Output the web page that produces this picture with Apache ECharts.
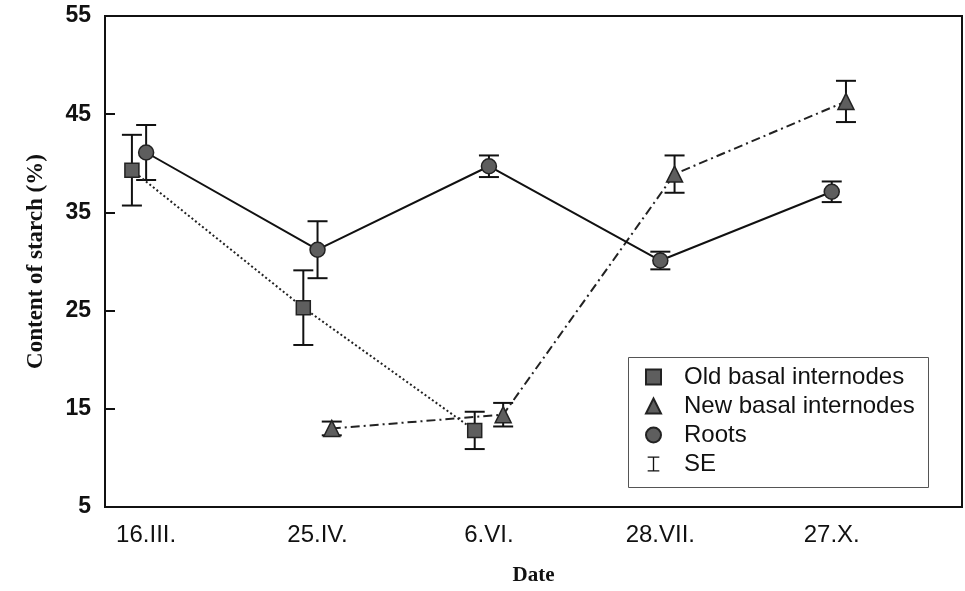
<!DOCTYPE html>
<html>
<head>
<meta charset="utf-8">
<script src="https://cdn.jsdelivr.net/npm/echarts@6/dist/echarts.min.js"></script>
<style>html,body{margin:0;padding:0;background:#fff}#c{width:965px;height:591px}</style>
</head>
<body>
<div id="c"></div>
<script>
// ---- data ----
const categories = ['16.III.', '25.IV.', '6.VI.', '28.VII.', '27.X.'];
const yTicks = [5, 15, 25, 35, 45, 55];
const oldBasal   = [39.3, 25.3, 12.8, null, null];
const oldBasalSE = [3.6, 3.8, 1.9, null, null];
const newBasal   = [null, 13.0, 14.4, 38.9, 46.3];
const newBasalSE = [null, 0.7, 1.2, 1.9, 2.1];
const roots      = [41.1, 31.2, 39.7, 30.1, 37.1];
const rootsSE    = [2.8, 2.9, 1.1, 0.9, 1.05];

// ---- styling / layout ----
const OFFSET = 0.083;
const SANS = "'Liberation Sans', Arial, sans-serif";
const SERIF = "'Liberation Serif', 'Times New Roman', serif";
const MARK_FILL = '#5e5e5e';
const MARK_BORDER = '#222';

function pts(vals, off) {
  const out = [];
  vals.forEach((v, i) => { if (v != null) out.push([i + off, v]); });
  return out;
}
function bars(vals, se, off) {
  const out = [];
  vals.forEach((v, i) => { if (v != null && se[i] != null) out.push([i + off, v - se[i], v + se[i]]); });
  return out;
}
const errData = [].concat(
  bars(oldBasal, oldBasalSE, -OFFSET),
  bars(newBasal, newBasalSE, OFFSET),
  bars(roots, rootsSE, 0)
);

const chart = echarts.init(document.getElementById('c'), null, {renderer: 'canvas'});
chart.setOption({
  animation: false,
  backgroundColor: '#fff',
  grid: {left: 105, right: 3, top: 16, bottom: 80, show: true, borderColor: '#111', borderWidth: 2, backgroundColor: 'transparent'},
  xAxis: {
    type: 'value', min: -0.24, max: 4.76,
    axisLine: {show: true, onZero: false, lineStyle: {color: '#111', width: 2}},
    axisTick: {show: false},
    splitLine: {show: false},
    axisLabel: {
      customValues: [0, 1, 2, 3, 4],
      formatter: v => categories[Math.round(v)],
      fontFamily: SANS, fontSize: 24, color: '#111', margin: 16
    },
    name: 'Date', nameLocation: 'middle', nameGap: 58,
    nameTextStyle: {fontFamily: SERIF, fontWeight: 'bold', fontSize: 21, color: '#111'}
  },
  yAxis: {
    type: 'value', min: yTicks[0], max: yTicks[yTicks.length - 1], interval: 10,
    axisLine: {show: true, onZero: false, lineStyle: {color: '#111', width: 2}},
    axisTick: {show: true, inside: true, length: 10, lineStyle: {color: '#111', width: 2}},
    splitLine: {show: false},
    axisLabel: {fontFamily: SANS, fontWeight: 'bold', fontSize: 23, color: '#111', margin: 14, padding: [8, 0, 0, 0]},
    name: 'Content of starch (%)', nameLocation: 'middle', nameGap: 57, nameRotate: 90,
    nameTextStyle: {fontFamily: SERIF, fontWeight: 'bold', fontSize: 23, color: '#111'}
  },
  legend: {
    orient: 'vertical', left: 640, top: 360, itemGap: 5,
    itemWidth: 15, itemHeight: 15,
    textStyle: {fontFamily: SANS, fontSize: 24, color: '#111', padding: [0, 0, 0, 18]},
    data: [
      {name: 'Old basal internodes', icon: 'rect'},
      {name: 'New basal internodes', icon: 'triangle'},
      {name: 'Roots', icon: 'circle'},
      {name: 'SE', icon: 'path://M0,0H14V1.6H7.8V16.4H14V18H0V16.4H6.2V1.6H0Z'}
    ]
  },
  graphic: [{
    type: 'rect', left: 628, top: 357, z: 0,
    shape: {width: 300, height: 130},
    style: {fill: '#fff', stroke: '#555', lineWidth: 1}
  }],
  series: [
    {
      name: 'SE', type: 'custom', z: 1,
      itemStyle: {color: '#111'},
      data: errData,
      encode: {x: 0, y: [1, 2]},
      renderItem: function (params, api) {
        const x = api.value(0), lo = api.value(1), hi = api.value(2);
        const a = api.coord([x, hi]), b = api.coord([x, lo]);
        const w = 10;
        const st = {stroke: '#111', lineWidth: 2};
        return {type: 'group', children: [
          {type: 'line', shape: {x1: a[0], y1: a[1], x2: b[0], y2: b[1]}, style: st},
          {type: 'line', shape: {x1: a[0] - w, y1: a[1], x2: a[0] + w, y2: a[1]}, style: st},
          {type: 'line', shape: {x1: b[0] - w, y1: b[1], x2: b[0] + w, y2: b[1]}, style: st}
        ]};
      }
    },
    {
      name: 'Old basal internodes', type: 'line', z: 3,
      data: pts(oldBasal, -OFFSET),
      symbol: 'rect', symbolSize: 14,
      lineStyle: {color: '#222', width: 2, type: [2, 2.5]},
      itemStyle: {color: MARK_FILL, borderColor: MARK_BORDER, borderWidth: 1.5},
      emphasis: {disabled: true}
    },
    {
      name: 'New basal internodes', type: 'line', z: 3,
      data: pts(newBasal, OFFSET),
      symbol: 'triangle', symbolSize: 16,
      lineStyle: {color: '#222', width: 2, type: [9, 4, 2, 4]},
      itemStyle: {color: MARK_FILL, borderColor: MARK_BORDER, borderWidth: 1.5},
      emphasis: {disabled: true}
    },
    {
      name: 'Roots', type: 'line', z: 4,
      data: pts(roots, 0),
      symbol: 'circle', symbolSize: 15,
      lineStyle: {color: '#111', width: 2},
      itemStyle: {color: MARK_FILL, borderColor: MARK_BORDER, borderWidth: 1.5},
      emphasis: {disabled: true}
    }
  ]
});
</script>
</body>
</html>
